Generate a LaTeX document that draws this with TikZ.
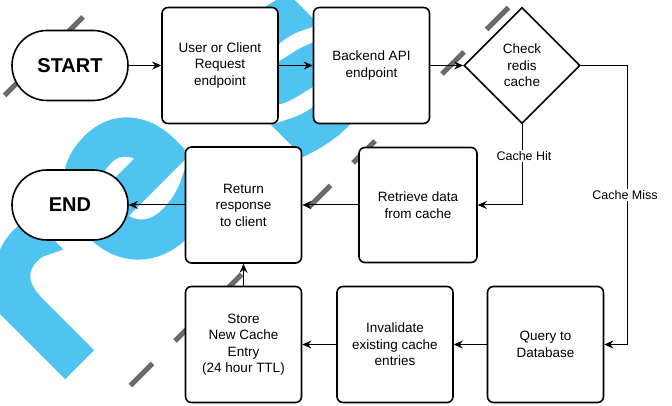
\documentclass[tikz,border=0pt]{standalone}
\usepackage{fontspec}
\setmainfont{Liberation Sans}
\newfontfamily\wmfont[FakeBold=10]{DejaVu Sans}
\usetikzlibrary{arrows.meta,shapes.geometric}
\definecolor{wmblue}{HTML}{4FC4F1}
\definecolor{wmgray}{HTML}{6B6B6B}
\pgfdeclarelayer{bg}
\pgfsetlayers{bg,main}
\begin{document}
\begin{tikzpicture}[x=1pt,y=-1pt,
  box/.style={draw, line width=1.6pt, rounded corners=6pt, fill=white,
    minimum width=116pt, minimum height=116pt, inner sep=0pt, align=center,
    font=\fontsize{13.5}{16.5}\selectfont},
  term/.style={draw, line width=1.6pt, rounded corners=34.9pt, fill=white,
    minimum width=116pt, minimum height=70pt, inner sep=0pt,
    font=\bfseries\fontsize{20}{24}\selectfont},
  dec/.style={draw, diamond, line width=1.6pt, fill=white,
    minimum width=116pt, minimum height=116pt, inner sep=0pt, align=center,
    font=\fontsize{13.5}{16.5}\selectfont},
  conn/.style={line width=1pt, -{Stealth[length=9pt,width=8pt,inset=3pt]}},
  lab/.style={fill=white, inner sep=1pt, font=\fontsize{12.5}{15}\selectfont},
  wm/.style={text=wmblue, font=\wmfont\fontsize{215}{215}\selectfont,
    rotate=45, inner sep=0pt},
  wmdash/.style={draw=wmgray, line width=5pt}
]
\useasboundingbox (0,0) rectangle (672,406);

% watermark
\begin{pgfonlayer}{bg}
  \node[wm] (wr) at (40,304) {r};
  \node[wm] (we) at (133,190) {e};
  \node[wm] (ws) at (298,74) {s};
  \foreach \c in {141.5,186,230.5,275,319.5,364,408.5,453,497.5}
    \draw[wmdash] ({\c-11},{527-\c}) -- ({\c+11},{505-\c});
  \foreach \c in {74,13.5}
    \draw[wmdash] ({\c-9},{109-\c}) -- ({\c+9},{91-\c});
\end{pgfonlayer}

% nodes
\node[term] (start) at (70,65.5) {START};
\node[box] (req) at (220,65.5) {User or Client\\Request\\endpoint};
\node[box] (api) at (371.5,65.5) {Backend API\\endpoint};
\node[dec] (chk) at (522,65.5) {Check\\redis\\cache};
\node[box, minimum width=118pt, minimum height=115pt] (ret) at (418,205) {Retrieve data\\from cache};
\node[box] (resp) at (243.5,205) {Return\\response\\to client};
\node[term] (end) at (70,205) {END};
\node[box] (store) at (243.5,344.5) {Store\\New Cache\\Entry\\(24 hour TTL)};
\node[box] (inv) at (395,344.5) {Invalidate\\existing cache\\entries};
\node[box] (query) at (545.5,344.5) {Query to\\Database};
\coordinate (missc) at (627,65.5);

% connectors
\draw[conn] (start) -- (req);
\draw[conn] (req) -- (api);
\draw[conn] (api) -- (chk);
\draw[conn] (chk.south) |- (ret.east);
\draw[conn] (chk.east) -- (missc) |- (query.east);
\draw[conn] (ret) -- (resp);
\draw[conn] (resp) -- (end);
\draw[conn] (store) -- (resp);
\draw[conn] (query) -- (inv);
\draw[conn] (inv) -- (store);

% labels
\node[lab] (hit) at (524,156) {Cache Hit};
\node[lab] (miss) at (625,195) {Cache Miss};
\end{tikzpicture}
\end{document}
